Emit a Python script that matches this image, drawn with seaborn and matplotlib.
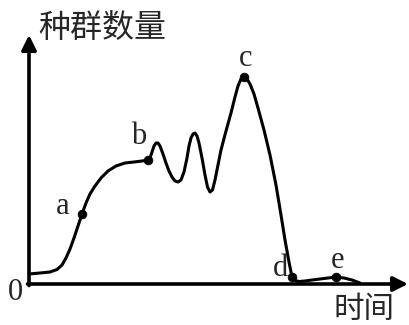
import matplotlib
matplotlib.use("Agg")
import matplotlib.pyplot as plt
import seaborn as sns
import pandas as pd

# Curve (time, population), arbitrary units
time = [0.0, 1.1, 2.1, 2.8, 3.3, 3.7, 4.1, 4.5, 4.9, 5.3, 5.7, 6.1, 6.6, 7.2, 7.9,
        8.7, 9.6, 10.5, 11.3, 11.9, 12.1, 12.3, 12.5, 12.7, 12.9, 13.1, 13.4,
        13.7, 14.0, 14.3, 14.6, 14.9, 15.2, 15.5, 15.8, 16.0, 16.2, 16.4, 16.6,
        16.8, 17.0, 17.3, 17.6, 17.85, 18.1, 18.35, 18.6, 18.9, 19.2, 19.7, 20.2,
        20.6, 20.9, 21.2, 21.5, 21.8, 22.1, 22.5, 22.9, 23.5, 24.1, 24.7, 25.2,
        25.6, 26.0, 26.3, 26.6, 27.0, 27.6, 28.3, 29.1, 29.9, 30.7, 31.5, 32.3,
        33.1]
population = [1.0, 1.1, 1.2, 1.45, 1.9, 2.6, 3.5, 4.6, 5.8, 7.0, 8.1, 9.0, 9.8, 10.6,
              11.3, 11.8, 12.1, 12.2, 12.3, 12.4, 12.6, 13.2, 13.8, 14.1, 14.1,
              13.8, 13.0, 12.1, 11.3, 10.7, 10.3, 10.2, 10.4, 11.2, 12.6, 13.8,
              14.6, 15.0, 15.1, 14.8, 14.1, 12.6, 10.9, 9.7, 9.2, 9.4, 10.4, 11.9,
              13.4, 15.3, 17.1, 18.7, 19.8, 20.5, 20.7, 20.5, 20.0, 19.0, 17.6,
              15.4, 12.9, 9.9, 6.9, 4.4, 2.2, 0.7, 0.35, 0.25, 0.3, 0.4, 0.5, 0.6,
              0.7, 0.6, 0.4, 0.1]

# labelled points a-e
point_labels = ["a", "b", "c", "d", "e"]
point_time = [5.3, 11.9, 21.5, 26.3, 30.7]
point_pop = [7.0, 12.4, 20.7, 0.7, 0.7]
label_pos = [(3.4, 7.8), (11.0, 14.8), (21.7, 22.6), (25.2, 1.6), (30.8, 2.4)]

y_title = "种群数量"
x_title = "时间"

sns.set_style("white")
plt.rcParams['font.family'] = ['Noto Sans CJK SC', 'DejaVu Sans']

fig = plt.figure(figsize=(4.09, 3.25), dpi=100)
ax = fig.add_axes([29 / 409, 41 / 325, 380 / 409, 284 / 325])
ax.set_xlim(0, 38)
ax.set_ylim(0, 28.4)
for s in ax.spines.values():
    s.set_visible(False)
ax.set_xticks([])
ax.set_yticks([])

df = pd.DataFrame({"time": time, "population": population})
sns.lineplot(data=df, x="time", y="population", ax=ax, color="black",
             linewidth=2.2, clip_on=False)
sns.scatterplot(x=point_time, y=point_pop, ax=ax, color="black", s=40,
                edgecolor="black", clip_on=False, zorder=5)
ax.set_xlabel("")
ax.set_ylabel("")

# axes with arrows
arrow = dict(arrowstyle="-|>", lw=2.6, color="black", mutation_scale=22,
             shrinkA=0, shrinkB=0)
ax.annotate("", xy=(37.9, 0), xytext=(-0.15, 0), arrowprops=arrow,
            annotation_clip=False)
ax.annotate("", xy=(0, 24.9), xytext=(0, -0.15), arrowprops=arrow,
            annotation_clip=False)

serif = ["Liberation Serif", "DejaVu Serif"]
for lab, (tx, ty) in zip(point_labels, label_pos):
    ax.text(tx, ty, lab, fontsize=22, family=serif, ha="center", va="center")
ax.text(-1.4, -0.9, "0", fontsize=22, family=serif, ha="center", va="center",
        clip_on=False)
ax.text(0.9, 25.6, y_title, fontsize=23, ha="left", va="center", clip_on=False)
ax.text(33.5, -2.5, x_title, fontsize=22, ha="center", va="center", clip_on=False)

fig.savefig("out.png", dpi=100)
